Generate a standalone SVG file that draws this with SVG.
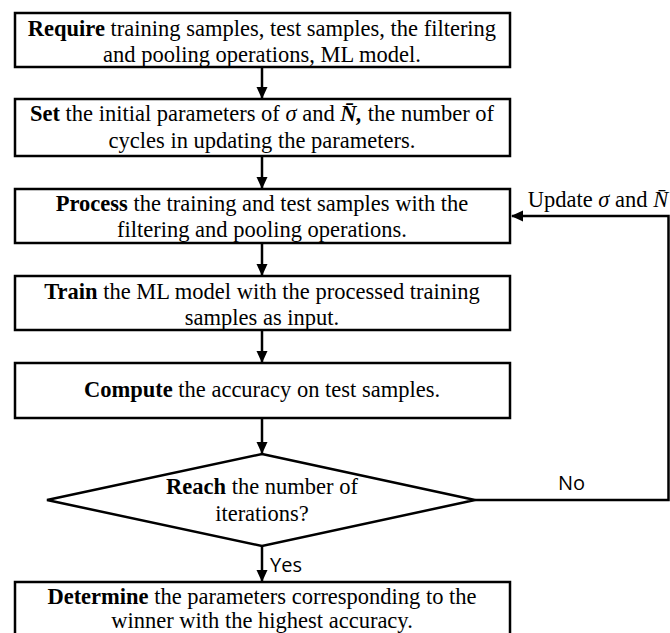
<svg xmlns="http://www.w3.org/2000/svg" width="670" height="633" viewBox="0 0 670 633">
<defs>
<marker id="ah" markerWidth="12" markerHeight="12" refX="11" refY="5.5" orient="auto" markerUnits="userSpaceOnUse">
<path d="M0,0 L12,5.5 L0,11 z" fill="#000"/>
</marker>
<style>
.box{fill:#fff;stroke:#000;stroke-width:2.5}
.t{font-family:"Liberation Serif","Times New Roman",serif;font-size:22.5px;fill:#000;text-anchor:middle}
.b{font-weight:bold}
.i{font-style:italic}
.s{font-family:"Open Sans","Liberation Sans",Arial,sans-serif;font-size:20px;fill:#000}
.c{fill:none;stroke:#000;stroke-width:2.5}
</style>
</defs>
<rect width="670" height="633" fill="#fff"/>
<g id="connectors">
<line class="c" x1="262" y1="67" x2="262" y2="98" marker-end="url(#ah)"/>
<line class="c" x1="262" y1="156" x2="262" y2="188" marker-end="url(#ah)"/>
<line class="c" x1="262" y1="243" x2="262" y2="275" marker-end="url(#ah)"/>
<line class="c" x1="262" y1="330" x2="262" y2="362" marker-end="url(#ah)"/>
<line class="c" x1="262" y1="418" x2="262" y2="453" marker-end="url(#ah)"/>
<line class="c" x1="262" y1="546" x2="262" y2="581" marker-end="url(#ah)"/>
<polyline class="c" points="475,500 668.5,500 668.5,216 512,216" marker-end="url(#ah)"/>
<text class="s" x="558" y="490">No</text>
<text class="s" x="270" y="572">Yes</text>
<text class="t" x="598" y="207">Update <tspan class="i">σ</tspan> and <tspan class="i">N̄</tspan></text>
</g>
<g id="require">
<rect class="box" x="15" y="13" width="495" height="54"/>
<text class="t" x="262" y="36"><tspan class="b">Require</tspan> training samples, test samples, the filtering</text>
<text class="t" x="262" y="62">and pooling operations, ML model.</text>
</g>
<g id="set">
<rect class="box" x="15" y="99" width="495" height="57"/>
<text class="t" x="262" y="121"><tspan class="b">Set</tspan> the initial parameters of <tspan class="i">σ</tspan> and <tspan class="b i">N̄,</tspan> the number of</text>
<text class="t" x="262" y="148">cycles in updating the parameters.</text>
</g>
<g id="process">
<rect class="box" x="15" y="189" width="495" height="54"/>
<text class="t" x="262" y="211"><tspan class="b">Process</tspan> the training and test samples with the</text>
<text class="t" x="262" y="237">filtering and pooling operations.</text>
</g>
<g id="train">
<rect class="box" x="15" y="276" width="495" height="54"/>
<text class="t" x="262" y="299"><tspan class="b">Train</tspan> the ML model with the processed training</text>
<text class="t" x="262" y="325">samples as input.</text>
</g>
<g id="compute">
<rect class="box" x="15" y="363" width="495" height="55"/>
<text class="t" x="262" y="397"><tspan class="b">Compute</tspan> the accuracy on test samples.</text>
</g>
<g id="reach">
<polygon class="box" points="262,454 475,500 262,546 47,500"/>
<text class="t" x="262" y="494"><tspan class="b">Reach</tspan> the number of</text>
<text class="t" x="262" y="521">iterations?</text>
</g>
<g id="determine">
<rect class="box" x="15" y="582" width="495" height="60"/>
<text class="t" x="262" y="604"><tspan class="b">Determine</tspan> the parameters corresponding to the</text>
<text class="t" x="262" y="628">winner with the highest accuracy.</text>
</g>
</svg>
